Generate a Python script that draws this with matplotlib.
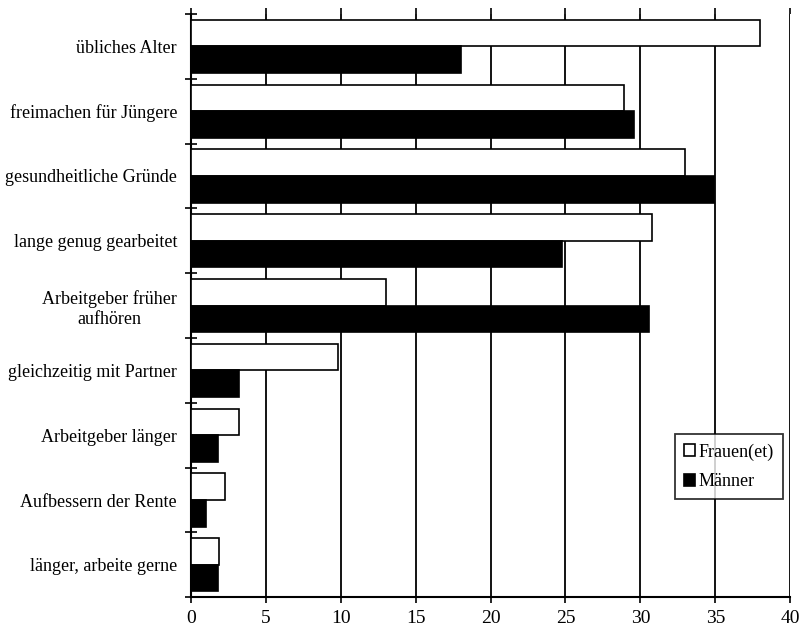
import matplotlib.pyplot as plt
import numpy as np

plt.rcParams['font.family'] = ['Liberation Serif', 'DejaVu Serif']

categories = ['übliches Alter', 'freimachen für Jüngere', 'gesundheitliche Gründe',
              'lange genug gearbeitet', 'Arbeitgeber früher\naufhören',
              'gleichzeitig mit Partner', 'Arbeitgeber länger',
              'Aufbessern der Rente', 'länger, arbeite gerne']
frauen = [38.0, 28.9, 33.0, 30.8, 13.0, 9.8, 3.2, 2.3, 1.9]
maenner = [18.0, 29.6, 34.9, 24.8, 30.6, 3.2, 1.8, 1.0, 1.8]

fig, ax = plt.subplots(figsize=(7.99, 6.32), dpi=100)
fig.subplots_adjust(left=0.239, right=0.989, top=0.978, bottom=0.055)

y = np.arange(len(categories))
h = 0.41
ax.barh(y - h / 2, frauen, height=h, color='white', edgecolor='black', linewidth=1.2,
        label='Frauen(et)', zorder=3)
ax.barh(y + h / 2, maenner, height=h, color='black', edgecolor='black', linewidth=1.2,
        label='Männer', zorder=3)

ax.set_ylim(len(categories) - 0.5, -0.5)
ax.set_xlim(0, 40)
ax.set_xticks(np.arange(0, 41, 5))
ax.set_yticks(y)
ax.set_yticklabels(categories, fontsize=13, multialignment='center')
ax.set_yticks(np.arange(-0.5, len(categories), 1), minor=True)
ax.tick_params(axis='y', which='major', length=0, pad=10)
ax.tick_params(axis='y', which='minor', length=8, direction='inout', width=1.2)
ax.tick_params(axis='x', labelsize=14, length=4, width=1.2, top=True,
               direction='out', pad=5)

for v in range(5, 41, 5):
    ax.axvline(v, color='black', linewidth=1.3, zorder=1)

for s in ['top', 'right']:
    ax.spines[s].set_visible(False)
ax.spines['left'].set_linewidth(1.5)
ax.spines['bottom'].set_linewidth(1.5)

leg = ax.legend(loc='lower right', bbox_to_anchor=(0.988, 0.168), fontsize=13,
                frameon=True, fancybox=False, edgecolor='black', handlelength=0.6,
                handleheight=0.6, handletextpad=0.2, labelspacing=0.7, borderpad=0.5,
                borderaxespad=0)
leg.get_frame().set_linewidth(1.3)

fig.savefig('out.png', dpi=100)
